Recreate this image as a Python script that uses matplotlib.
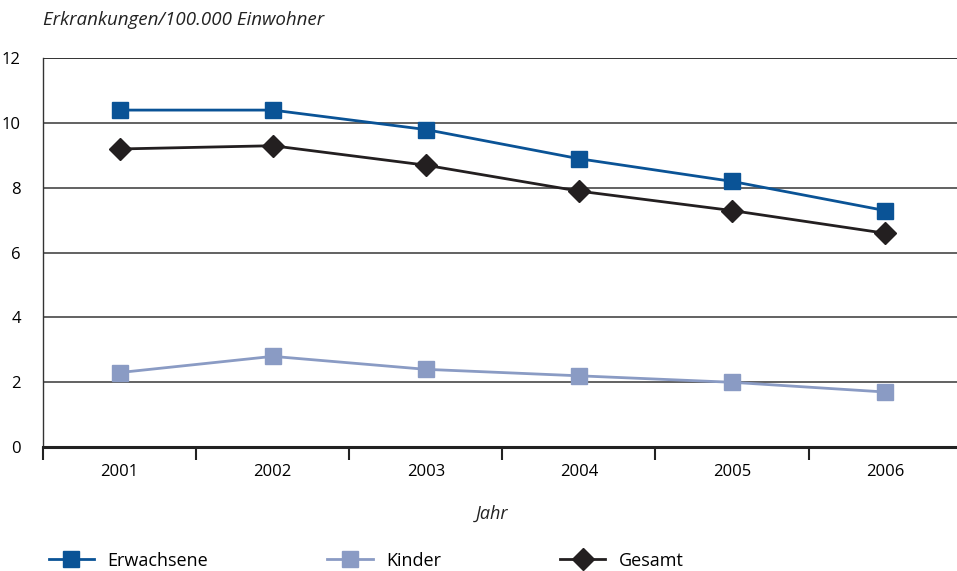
import numpy as np
import matplotlib
matplotlib.use("Agg")
import matplotlib.pyplot as plt
from matplotlib.ticker import FixedLocator

plt.rcParams['font.family'] = ['Open Sans', 'DejaVu Sans']

# Daten
jahre = ['2001', '2002', '2003', '2004', '2005', '2006']
erwachsene = [10.4, 10.4, 9.8, 8.9, 8.2, 7.3]
kinder = [2.3, 2.8, 2.4, 2.2, 2.0, 1.7]
gesamt = [9.2, 9.3, 8.7, 7.9, 7.3, 6.6]

c_erw = '#0a5396'
c_kin = '#8a9bc4'
c_ges = '#231f20'

fig = plt.figure(figsize=(9.57, 5.71), dpi=100)
ax = fig.add_axes([0.045, 0.217, 0.955, 0.681])

x = np.arange(len(jahre))
ax.plot(x, erwachsene, color=c_erw, lw=2, marker='s', ms=11, label='Erwachsene', zorder=4)
ax.plot(x, kinder, color=c_kin, lw=2, marker='s', ms=11, label='Kinder', zorder=3)
ax.plot(x, gesamt, color=c_ges, lw=2, marker='D', ms=11, label='Gesamt', zorder=5)

ax.set_ylim(0, 12)
ax.set_xlim(-0.5, 5.47)
ax.set_yticks(range(0, 13, 2))
for yv in range(2, 13, 2):
    ax.axhline(yv, color='#555555' if yv < 12 else '#222222', lw=1.3, zorder=1)

ax.set_xticks(x)
ax.set_xticklabels(jahre, fontsize=12)
ax.xaxis.set_minor_locator(FixedLocator(np.arange(-0.5, 6, 1)))
ax.tick_params(axis='x', which='major', length=0, pad=12)
ax.tick_params(axis='x', which='minor', length=9, width=1.5, color='#222222')
ax.tick_params(axis='y', length=0, pad=16, labelsize=12)

for s in ['top', 'right']:
    ax.spines[s].set_visible(False)
ax.spines['left'].set_linewidth(1.0)
ax.spines['left'].set_color('#333333')
ax.spines['bottom'].set_linewidth(2.2)
ax.spines['bottom'].set_color('#222222')

fig.text(0.045, 0.965, 'Erkrankungen/100.000 Einwohner', fontsize=13.5,
         style='italic', color='#222222', va='center', ha='left')
fig.text(0.514, 0.101, 'Jahr', fontsize=13, style='italic', color='#222222',
         va='center', ha='center')

leg = fig.legend(loc='center left', bbox_to_anchor=(0.034, 0.018), ncol=3,
                 frameon=False, fontsize=13, handlelength=2.5,
                 columnspacing=6.6, handletextpad=0.75)

fig.savefig('out.png', dpi=100)
